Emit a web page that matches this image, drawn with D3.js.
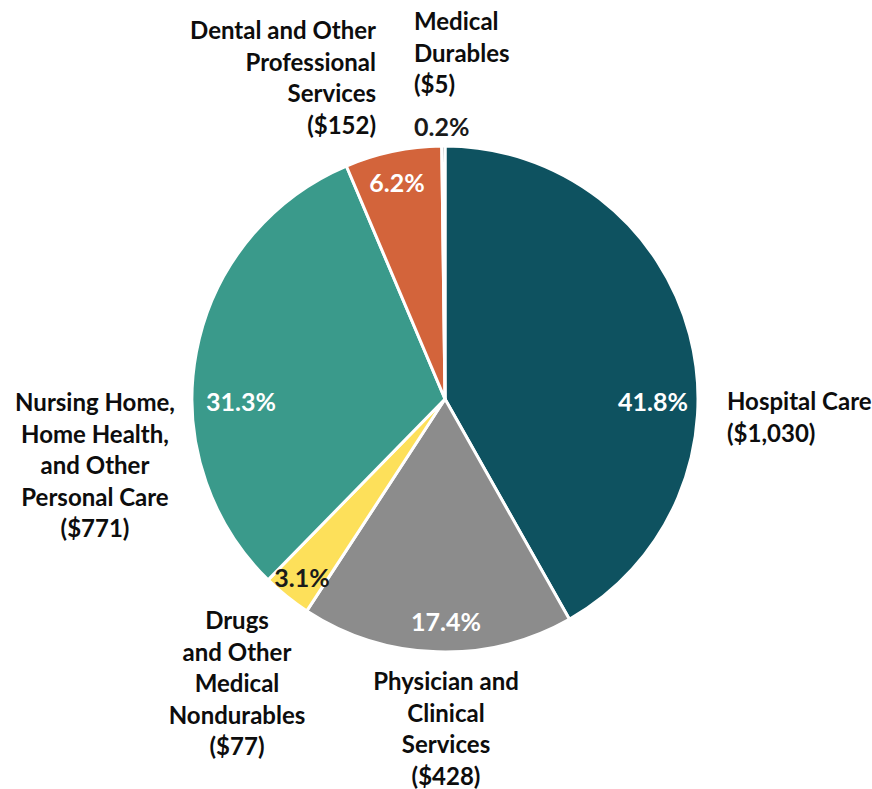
<!DOCTYPE html>
<html>
<head>
<meta charset="utf-8">
<script src="https://cdn.jsdelivr.net/npm/d3@7"></script>
<style>
  body { margin: 0; background: #fff; }
  text { font-family: Lato, "Open Sans", sans-serif; font-weight: 700; font-size: 24px; }
  text.pct { font-size: 25px; }
</style>
</head>
<body>
<div id="chart"></div>
<script>
// spending categories, clockwise from 12 o'clock
const categories = ["Hospital Care", "Physician and Clinical Services", "Drugs and Other Medical Nondurables",
    "Nursing Home, Home Health, and Other Personal Care", "Dental and Other Professional Services", "Medical Durables"];
const amounts = [1030, 428, 77, 771, 152, 5];
const percentLabels = ["41.8%", "17.4%", "3.1%", "31.3%", "6.2%", "0.2%"];
const nameLines = [
    ["Hospital Care", "($1,030)"],
    ["Physician and", "Clinical", "Services", "($428)"],
    ["Drugs", "and Other", "Medical", "Nondurables", "($77)"],
    ["Nursing Home,", "Home Health,", "and Other", "Personal Care", "($771)"],
    ["Dental and Other", "Professional", "Services", "($152)"],
    ["Medical", "Durables", "($5)"]
];
const colors = ["#0e5260", "#8c8c8c", "#fde05a", "#3a9a8b", "#d3643b", "#2b2b2b"];

// label layout (x, first baseline y, anchor) for category names
const nameLayout = [
    {x: 727, y: 410, anchor: "start"},
    {x: 446, y: 690, anchor: "middle"},
    {x: 237, y: 629, anchor: "middle"},
    {x: 95, y: 411, anchor: "middle"},
    {x: 376, y: 39, anchor: "end"},
    {x: 414, y: 30, anchor: "start"}
];
// percent label positions
const pctLayout = [
    {x: 653, y: 411, fill: "#fff", anchor: "middle"},
    {x: 446, y: 631, fill: "#fff", anchor: "middle"},
    {x: 302, y: 587, fill: "#1a1a1a", anchor: "middle"},
    {x: 241, y: 411, fill: "#fff", anchor: "middle"},
    {x: 397, y: 192, fill: "#fff", anchor: "middle"},
    {x: 414, y: 136, fill: "#1a1a1a", anchor: "start"}
];

const width = 872, height = 789;
const cx = 445, cy = 399, radius = 253;
const lineHeight = 31.5;

const svg = d3.select("#chart").append("svg")
    .attr("width", width)
    .attr("height", height);

const pie = d3.pie().sort(null).value(d => d);
const arc = d3.arc().innerRadius(0).outerRadius(radius);

const g = svg.append("g")
    .attr("transform", "translate(" + cx + "," + cy + ")");

g.selectAll("path")
    .data(pie(amounts))
    .enter().append("path")
    .attr("d", arc)
    .attr("fill", (d, i) => colors[i])
    .attr("stroke", "#fff")
    .attr("stroke-width", 3)
    .attr("stroke-linejoin", "round");

// percentages
svg.selectAll("text.pct")
    .data(percentLabels)
    .enter().append("text")
    .attr("class", "pct")
    .attr("x", (d, i) => pctLayout[i].x)
    .attr("y", (d, i) => pctLayout[i].y)
    .attr("text-anchor", (d, i) => pctLayout[i].anchor)
    .attr("fill", (d, i) => pctLayout[i].fill)
    .text(d => d);

// category names
nameLines.forEach((lines, i) => {
    const t = svg.append("text")
        .attr("text-anchor", nameLayout[i].anchor)
        .attr("fill", "#0d0d0d");
    lines.forEach((line, j) => {
        t.append("tspan")
            .attr("x", nameLayout[i].x)
            .attr("y", nameLayout[i].y + j * lineHeight)
            .text(line);
    });
});
</script>
</body>
</html>
